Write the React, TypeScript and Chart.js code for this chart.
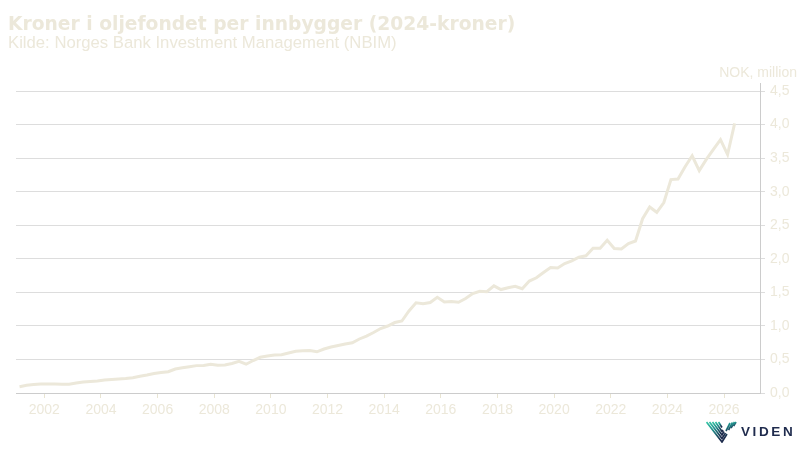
import React, { useRef, useEffect } from 'react';
import { Chart, registerables } from 'chart.js';

Chart.register(...registerables);

const TITLE = 'Kroner i oljefondet per innbygger (2024-kroner)';
const SUBTITLE = 'Kilde: Norges Bank Investment Management (NBIM)';
const UNIT = 'NOK, million';

// quarterly observations, first one in Q1 2001
const firstQuarter = 2001.125;
const perCapita = [
  0.094, 0.115, 0.125, 0.135, 0.134, 0.133, 0.131, 0.131, 0.149, 0.164,
  0.171, 0.179, 0.194, 0.201, 0.209, 0.216, 0.228, 0.249, 0.268, 0.29,
  0.305, 0.317, 0.358, 0.375, 0.392, 0.408, 0.41, 0.428, 0.413, 0.417,
  0.44, 0.472, 0.429, 0.484, 0.532, 0.551, 0.566, 0.571, 0.596, 0.621,
  0.629, 0.633, 0.614, 0.656, 0.685, 0.708, 0.73, 0.748, 0.805, 0.849,
  0.901, 0.961, 0.998, 1.05, 1.073, 1.222, 1.344, 1.332, 1.349, 1.426,
  1.356, 1.365, 1.353, 1.408, 1.483, 1.515, 1.51, 1.597, 1.542, 1.569,
  1.59, 1.554, 1.669, 1.717, 1.796, 1.87, 1.863, 1.93, 1.97, 2.024,
  2.044, 2.158, 2.158, 2.275, 2.153, 2.146, 2.228, 2.265, 2.597, 2.772,
  2.693, 2.839, 3.181, 3.189, 3.372, 3.535, 3.315, 3.482, 3.631, 3.777,
  3.554, 4.019,
];

const yearTicks = [2002, 2004, 2006, 2008, 2010, 2012, 2014, 2016, 2018, 2020, 2022, 2024, 2026];
const valueTicks = [0, 0.5, 1, 1.5, 2, 2.5, 3, 3.5, 4, 4.5];

const TEXT = '#ece8da';
const LINE = '#ece8da';
const GRID = '#dddddd';
const AXIS = '#cccccc';

const textPlugin = {
  id: 'headerTexts',
  afterDraw(chart: Chart) {
    const { ctx } = chart;
    ctx.save();
    ctx.fillStyle = TEXT;
    ctx.textBaseline = 'alphabetic';
    ctx.textAlign = 'left';
    ctx.font = 'bold 18.7px "DejaVu Sans"';
    ctx.fillText(TITLE, 8, 30);
    ctx.font = '16.7px "Liberation Sans"';
    ctx.fillText(SUBTITLE, 8, 48);
    ctx.font = '14px "Liberation Sans"';
    ctx.textAlign = 'right';
    ctx.fillText(UNIT, 797, 77);
    ctx.restore();
  },
};

const VidenLogo: React.FC = () => (
  <div style={{ position: 'absolute', left: 706, top: 421, display: 'flex', alignItems: 'center' }}>
    <svg width="32" height="22" viewBox="0 0 32 22">
      <defs>
        <linearGradient id="vg" x1="0" y1="0" x2="0.5" y2="1">
          <stop offset="0" stopColor="#35c7a6" />
          <stop offset="0.45" stopColor="#1f8d8a" />
          <stop offset="1" stopColor="#1d2b4c" />
        </linearGradient>
      </defs>
      <g fill="none" stroke="url(#vg)" strokeWidth="1.7" strokeLinejoin="miter">
        <polyline points="0.5,1 16,21 21,13" />
        <polyline points="3.5,1 16,17.5 19.5,12" />
        <polyline points="6.5,1 16,14 18,10.5" />
        <polyline points="9.5,1 16,10.5 17,9" />
        <polyline points="12.5,1 16,6.5" />
        <line x1="0.5" y1="1" x2="15" y2="1" />
        <line x1="20" y1="10" x2="24" y2="2" />
        <line x1="22.5" y1="9" x2="26.5" y2="1.5" />
        <line x1="25" y1="7" x2="28.5" y2="1" />
        <line x1="27.5" y1="5" x2="30" y2="1" />
      </g>
    </svg>
    <span
      style={{
        marginLeft: 3,
        font: '600 13.5px "Liberation Sans", Arial, sans-serif',
        letterSpacing: '2.6px',
        color: '#1f2b4d',
        lineHeight: '14px',
      }}
    >
      VIDEN
    </span>
  </div>
);

const App: React.FC = () => {
  const canvas = useRef<HTMLCanvasElement>(null);

  useEffect(() => {
    if (!canvas.current) return;
    const ctx = canvas.current.getContext('2d');
    if (!ctx) return;

    const points = perCapita.map((v, i) => ({ x: firstQuarter + i * 0.25, y: v }));

    const chart = new Chart(ctx, {
      type: 'line',
      data: {
        datasets: [
          {
            data: points,
            borderColor: LINE,
            borderWidth: 3,
            pointRadius: 0,
            tension: 0,
            fill: false,
          },
        ],
      },
      options: {
        animation: false,
        responsive: false,
        devicePixelRatio: 1,
        layout: { padding: { left: 16, right: 0, top: 83, bottom: 27 } },
        plugins: {
          legend: { display: false },
          tooltip: { enabled: false },
        },
        scales: {
          x: {
            type: 'linear',
            min: 2001,
            max: 2027.27,
            afterBuildTicks: (scale: any) => {
              scale.ticks = yearTicks.map((v) => ({ value: v }));
            },
            afterFit: (scale: any) => {
              scale.height = 30;
            },
            grid: {
              drawOnChartArea: false,
              drawTicks: true,
              tickLength: 5,
              tickColor: '#e9e5d3',
            },
            border: { color: AXIS, width: 1 },
            ticks: {
              color: TEXT,
              font: { family: '"Liberation Sans"', size: 14 },
              padding: 4,
              maxRotation: 0,
              autoSkip: false,
              callback: (v: any) => String(v),
            },
          },
          y: {
            position: 'right',
            min: 0,
            max: 4.62,
            afterBuildTicks: (scale: any) => {
              scale.ticks = valueTicks.map((v) => ({ value: v }));
            },
            afterFit: (scale: any) => {
              scale.width = 40;
            },
            grid: {
              color: GRID,
              tickColor: GRID,
              tickLength: 5,
            },
            border: { color: AXIS, width: 1 },
            ticks: {
              color: TEXT,
              font: { family: '"Liberation Sans"', size: 14 },
              padding: 5,
              callback: (v: any) => Number(v).toFixed(1).replace('.', ','),
            },
          },
        },
      },
      plugins: [textPlugin],
    });

    return () => chart.destroy();
  }, []);

  return (
    <div style={{ position: 'fixed', left: 0, top: 0, width: 800, height: 450, background: '#ffffff' }}>
      <canvas ref={canvas} width={800} height={450} style={{ position: 'absolute', left: 0, top: 0 }} />
      <VidenLogo />
    </div>
  );
};

export default App;
